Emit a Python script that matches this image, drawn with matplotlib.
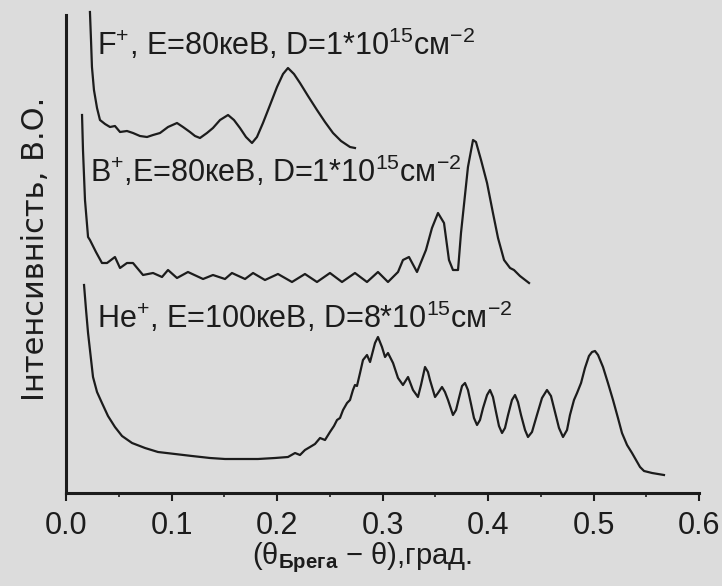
import numpy as np
import matplotlib.pyplot as plt

plt.rcParams['font.family'] = ['Liberation Sans', 'DejaVu Sans']
plt.rcParams['mathtext.fontset'] = 'custom'
plt.rcParams['mathtext.rm'] = 'Liberation Sans'
plt.rcParams['mathtext.it'] = 'Liberation Sans'
plt.rcParams['mathtext.bf'] = 'Liberation Sans:bold'

# F+ implantation curve
f_x = [0.0227, 0.0237, 0.0246, 0.0265, 0.0294, 0.0322, 0.0370, 0.0417, 0.0464, 0.0512,
       0.0578, 0.0635, 0.0701, 0.0768, 0.0825, 0.0891, 0.0967, 0.1052, 0.1109, 0.1175,
       0.1223, 0.1270, 0.1336, 0.1393, 0.1460, 0.1536, 0.1592, 0.1649, 0.1706, 0.1763,
       0.1810, 0.1867, 0.1934, 0.2000, 0.2057, 0.2104, 0.2161, 0.2218, 0.2294, 0.2379,
       0.2455, 0.2531, 0.2607, 0.2692, 0.2739]
f_y = [48.1, 45.3, 42.6, 40.3, 38.5, 37.3, 36.9, 36.6, 36.7, 36.1,
       36.2, 36.0, 35.7, 35.6, 35.8, 36.0, 36.6, 37.0, 36.6, 36.1,
       35.7, 35.5, 36.0, 36.5, 37.3, 37.8, 37.3, 36.5, 35.6, 35.0,
       35.6, 37.0, 38.8, 40.6, 41.9, 42.5, 41.9, 41.0, 39.7, 38.3,
       37.1, 36.0, 35.2, 34.6, 34.5]

# B+ implantation curve
b_x = [0.0152, 0.0161, 0.0180, 0.0209, 0.0227, 0.0284, 0.0341, 0.0389, 0.0464, 0.0512,
       0.0578, 0.0635, 0.0730, 0.0825, 0.0910, 0.0967, 0.1052, 0.1156, 0.1299, 0.1393,
       0.1507, 0.1573, 0.1697, 0.1773, 0.1886, 0.2009, 0.2142, 0.2265, 0.2379, 0.2502,
       0.2616, 0.2739, 0.2853, 0.2957, 0.3052, 0.3147, 0.3194, 0.3251, 0.3327, 0.3412,
       0.3469, 0.3526, 0.3583, 0.3630, 0.3668, 0.3716, 0.3744, 0.3782, 0.3810, 0.3858,
       0.3886, 0.3934, 0.3991, 0.4047, 0.4095, 0.4152, 0.4209, 0.4246, 0.4303, 0.4389]
b_y = [37.8, 34.3, 29.3, 25.6, 25.3, 24.1, 23.0, 23.0, 23.6, 22.5,
       23.0, 23.0, 21.8, 22.0, 21.6, 22.3, 21.5, 22.1, 21.4, 21.8,
       21.4, 22.0, 21.4, 22.0, 21.3, 21.9, 21.1, 21.9, 21.1, 22.0,
       21.1, 22.0, 21.1, 22.1, 21.1, 22.1, 23.3, 23.6, 22.1, 24.3,
       26.5, 28.0, 27.0, 23.3, 22.3, 22.3, 26.0, 29.8, 32.6, 35.3,
       35.1, 33.3, 31.0, 28.0, 25.5, 23.3, 22.5, 22.3, 21.7, 21.0]

# He+ implantation curve
he_x = [0.0171, 0.0190, 0.0209, 0.0256, 0.0294, 0.0341, 0.0398, 0.0464, 0.0531, 0.0626,
        0.0749, 0.0872, 0.1033, 0.1194, 0.1365, 0.1507, 0.1649, 0.1820, 0.1981, 0.2104,
        0.2171, 0.2218, 0.2265, 0.2313, 0.2360, 0.2408, 0.2455, 0.2502, 0.2540, 0.2569,
        0.2597, 0.2626, 0.2664, 0.2692, 0.2720, 0.2739, 0.2758, 0.2787, 0.2815, 0.2853,
        0.2882, 0.2929, 0.2957, 0.2995, 0.3024, 0.3052, 0.3100, 0.3147, 0.3194, 0.3242,
        0.3289, 0.3336, 0.3365, 0.3403, 0.3431, 0.3450, 0.3498, 0.3526, 0.3564, 0.3592,
        0.3621, 0.3668, 0.3697, 0.3725, 0.3754, 0.3782, 0.3810, 0.3839, 0.3867, 0.3896,
        0.3924, 0.3953, 0.3991, 0.4019, 0.4047, 0.4076, 0.4104, 0.4133, 0.4161, 0.4190,
        0.4227, 0.4256, 0.4284, 0.4313, 0.4351, 0.4379, 0.4417, 0.4464, 0.4512, 0.4559,
        0.4597, 0.4635, 0.4673, 0.4711, 0.4749, 0.4777, 0.4815, 0.4844, 0.4882, 0.4919,
        0.4957, 0.4986, 0.5014, 0.5043, 0.5090, 0.5137, 0.5185, 0.5232, 0.5270, 0.5318,
        0.5365, 0.5441, 0.5479, 0.5555, 0.5668]
he_y = [20.8, 18.3, 16.0, 11.6, 10.1, 9.0, 7.7, 6.6, 5.7, 5.0,
        4.5, 4.1, 3.9, 3.7, 3.5, 3.4, 3.4, 3.4, 3.5, 3.6,
        4.0, 3.8, 4.3, 4.6, 4.9, 5.5, 5.3, 6.1, 6.7, 7.3,
        7.5, 8.3, 9.0, 9.3, 10.3, 10.8, 10.7, 12.0, 13.3, 13.8,
        13.1, 15.0, 15.6, 14.6, 13.6, 14.0, 13.0, 11.5, 10.8, 11.6,
        10.3, 9.6, 10.8, 12.6, 12.1, 11.3, 9.6, 10.0, 10.6, 10.1,
        9.3, 7.8, 8.3, 9.5, 10.7, 11.0, 10.3, 8.9, 7.5, 6.8,
        7.3, 8.5, 9.8, 10.3, 9.6, 8.1, 6.7, 6.0, 6.5, 7.8,
        9.3, 9.8, 9.1, 7.8, 6.3, 5.6, 6.1, 7.8, 9.5, 10.3,
        9.7, 8.1, 6.5, 5.6, 6.3, 7.8, 9.3, 10.0, 11.0, 12.5,
        13.7, 14.1, 14.2, 13.8, 12.6, 11.0, 9.3, 7.5, 6.0, 4.8,
        4.0, 2.6, 2.2, 2.0, 1.8]

labels = [r'F$^{+}$, E=80кеВ, D=1*10$^{15}$см$^{-2}$',
          r'B$^{+}$,E=80кеВ, D=1*10$^{15}$см$^{-2}$',
          r'He$^{+}$, E=100кеВ, D=8*10$^{15}$см$^{-2}$']
label_pos = [(0.0294, 43.8), (0.0227, 31.1), (0.0294, 16.5)]

ink = '#1c1c1c'
bg = '#dcdcdc'

fig = plt.figure(figsize=(7.22, 5.86), dpi=100, facecolor=bg)
ax = fig.add_axes([66/722, 93/586, 633/722, 478/586], facecolor=bg)

for xs, ys in [(f_x, f_y), (b_x, b_y), (he_x, he_y)]:
    ax.plot(xs, ys, color=ink, lw=1.6, clip_on=False)

for txt, (tx, ty) in zip(labels, label_pos):
    ax.text(tx, ty, txt, fontsize=22, color=ink, va='baseline', ha='left')

ax.set_xlim(0, 0.6)
ax.set_ylim(0, 47.8)
ax.spines['top'].set_visible(False)
ax.spines['right'].set_visible(False)
for s in ['left', 'bottom']:
    ax.spines[s].set_linewidth(2.2)
    ax.spines[s].set_color(ink)
ax.set_yticks([])
ax.set_xticks(np.arange(0, 0.61, 0.1))
ax.set_xticks(np.arange(0.05, 0.6, 0.1), minor=True)
ax.set_xticklabels(['0.0', '0.1', '0.2', '0.3', '0.4', '0.5', '0.6'], fontsize=22)
ax.tick_params(axis='x', which='major', direction='out', length=6, width=1.5,
               colors=ink, pad=7)
ax.tick_params(axis='x', which='minor', direction='out', length=3, width=1.2, colors=ink)

ax.set_xlabel(r'($\mathrm{θ}_{\mathbf{Брега}}$ − θ),град.', fontsize=21, color=ink,
              labelpad=2)
ax.xaxis.set_label_coords(0.468, -0.1)
ax.set_ylabel('Інтенсивність, В.О.', fontsize=22, color=ink,
              family=['DejaVu Sans'])
ax.yaxis.set_label_coords(-0.026, 0.51)

fig.savefig('out.png', dpi=100, facecolor=bg)
